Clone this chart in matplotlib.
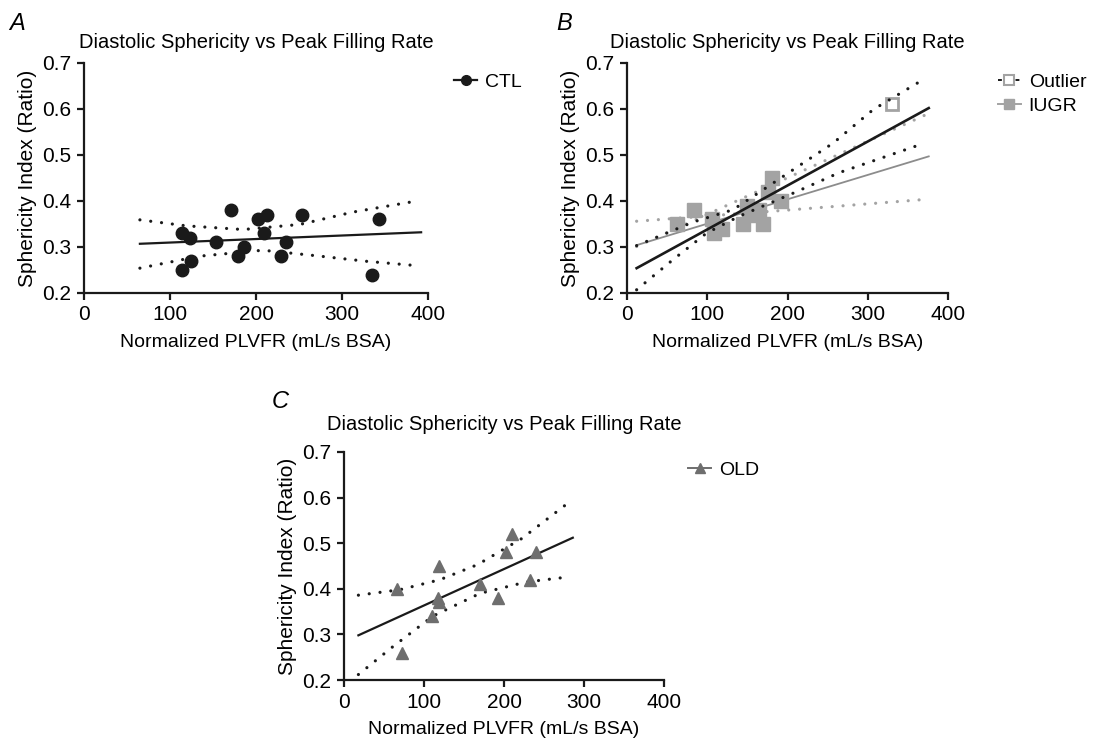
import matplotlib
matplotlib.use("Agg")
import matplotlib.pyplot as plt
from matplotlib.lines import Line2D

plt.rcParams['font.family'] = ['Liberation Sans', 'DejaVu Sans']

title = 'Diastolic Sphericity vs Peak Filling Rate'
xlabel = 'Normalized PLVFR (mL/s BSA)'
ylabel = 'Sphericity Index (Ratio)'

# Panel A - CTL
ctl_x = [114, 123, 114, 124, 154, 171, 179, 186, 202, 213, 209, 229, 235, 254, 343, 335]
ctl_y = [0.33, 0.32, 0.25, 0.27, 0.31, 0.38, 0.28, 0.30, 0.36, 0.37, 0.33, 0.28, 0.31, 0.37, 0.36, 0.24]
ctl_fit_x = [65, 392]
ctl_fit_y = [0.307, 0.332]
ctl_up_x = [65, 119, 185, 251, 313, 390]
ctl_up_y = [0.359, 0.346, 0.338, 0.349, 0.376, 0.401]
ctl_lo_x = [65, 134, 208, 270, 328, 390]
ctl_lo_y = [0.254, 0.280, 0.293, 0.281, 0.269, 0.259]

# Panel B - IUGR (+ outlier)
iugr_x = [62, 84, 106, 108, 119, 145, 150, 152, 165, 170, 176, 181, 192]
iugr_y = [0.35, 0.38, 0.36, 0.33, 0.34, 0.35, 0.39, 0.37, 0.38, 0.35, 0.42, 0.45, 0.40]
outlier_x = [330]
outlier_y = [0.61]
all_fit_x = [12, 376]
all_fit_y = [0.254, 0.602]
all_up_x = [12, 82, 132, 165, 207, 257, 307, 371]
all_up_y = [0.303, 0.354, 0.381, 0.419, 0.468, 0.526, 0.599, 0.666]
all_lo_x = [12, 57, 99, 140, 207, 265, 371]
all_lo_y = [0.207, 0.272, 0.330, 0.367, 0.417, 0.462, 0.526]
iugr_fit_x = [12, 376]
iugr_fit_y = [0.304, 0.497]
iugr_b1_x = [12, 198, 376]
iugr_b1_y = [0.356, 0.380, 0.404]
iugr_b2_x = [12, 373]
iugr_b2_y = [0.301, 0.588]

# Panel C - OLD
old_x = [66, 72, 110, 119, 117, 119, 170, 192, 203, 210, 233, 240]
old_y = [0.40, 0.26, 0.34, 0.45, 0.38, 0.37, 0.41, 0.38, 0.48, 0.52, 0.42, 0.48]
old_fit_x = [18, 286]
old_fit_y = [0.298, 0.512]
old_up_x = [18, 70, 120, 167, 222, 280]
old_up_y = [0.386, 0.398, 0.420, 0.453, 0.510, 0.588]
old_lo_x = [18, 61, 111, 170, 228, 276]
old_lo_y = [0.212, 0.273, 0.340, 0.390, 0.415, 0.425]

xticks = [0, 100, 200, 300, 400]
yticks = [0.2, 0.3, 0.4, 0.5, 0.6, 0.7]

BLACK = '#1a1a1a'
GRAY = '#a3a3a3'
DARKGRAY = '#6e6e6e'
DOT = (0, (0.01, 3.4))

W, H = 1104, 744
fig = plt.figure(figsize=(W / 100, H / 100), dpi=100)


def setup(ax, letter, lx, ly, title_pad):
    ax.set_xlim(0, 400)
    ax.set_ylim(0.2, 0.7)
    ax.set_xticks(xticks)
    ax.set_yticks(yticks)
    ax.set_yticklabels([f'{t:.1f}' for t in yticks])
    for s in ['top', 'right']:
        ax.spines[s].set_visible(False)
    for s in ['left', 'bottom']:
        ax.spines[s].set_linewidth(1.6)
        ax.spines[s].set_color(BLACK)
    ax.tick_params(direction='out', length=5, width=1.6, labelsize=15, color=BLACK, pad=4)
    ax.set_xlabel(xlabel, fontsize=14, labelpad=7)
    ax.set_ylabel(ylabel, fontsize=15, labelpad=4)
    ax.set_title(title, fontsize=14.5, pad=title_pad)
    fig.text(lx / W, 1 - ly / H, letter, fontsize=17, style='italic', va='top', ha='left')


def dotted(ax, x, y, color):
    ax.plot(x, y, color=color, linestyle=DOT, linewidth=2.3, dash_capstyle='round', clip_on=False)


# A
axA = fig.add_axes([84 / W, 1 - 293 / H, 344 / W, 230 / H])
setup(axA, 'A', 9, 12, 11)
axA.plot(ctl_fit_x, ctl_fit_y, color=BLACK, linewidth=1.6)
dotted(axA, ctl_up_x, ctl_up_y, BLACK)
dotted(axA, ctl_lo_x, ctl_lo_y, BLACK)
axA.plot(ctl_x, ctl_y, 'o', color=BLACK, markersize=9, clip_on=False)
hA = [Line2D([], [], color=BLACK, marker='o', markersize=7, linewidth=1.6)]
axA.legend(hA, ['CTL'], loc='upper left', bbox_to_anchor=(1.025, 1.03), frameon=False,
           fontsize=14, handlelength=1.2, handletextpad=0.4)

# B
axB = fig.add_axes([627 / W, 1 - 293 / H, 321 / W, 230 / H])
setup(axB, 'B', 556, 12, 11)
dotted(axB, iugr_b1_x, iugr_b1_y, GRAY)
dotted(axB, iugr_b2_x, iugr_b2_y, GRAY)
axB.plot(iugr_fit_x, iugr_fit_y, color='#8c8c8c', linewidth=1.3)
axB.plot(iugr_x, iugr_y, 's', color=GRAY, markersize=10, clip_on=False)
axB.plot(outlier_x, outlier_y, 's', markerfacecolor='white', markeredgecolor=GRAY,
         markeredgewidth=2, markersize=9, clip_on=False)
axB.plot(all_fit_x, all_fit_y, color=BLACK, linewidth=1.9)
dotted(axB, all_up_x, all_up_y, BLACK)
dotted(axB, all_lo_x, all_lo_y, BLACK)
hB = [Line2D([], [], color=BLACK, linestyle=(0, (2, 1)), marker='s', markerfacecolor='white',
             markeredgecolor=GRAY, markeredgewidth=1.5, markersize=7, linewidth=1.4),
      Line2D([], [], color=GRAY, marker='s', markersize=7, linewidth=1.4)]
axB.legend(hB, ['Outlier', 'IUGR'], loc='upper left', bbox_to_anchor=(1.1, 1.03), frameon=False,
           fontsize=14, handlelength=1.2, handletextpad=0.4, labelspacing=0.3)

# C
axC = fig.add_axes([344 / W, 1 - 680 / H, 320 / W, 228 / H])
setup(axC, 'C', 272, 390, 16)
axC.plot(old_fit_x, old_fit_y, color=BLACK, linewidth=1.6)
dotted(axC, old_up_x, old_up_y, BLACK)
dotted(axC, old_lo_x, old_lo_y, BLACK)
axC.plot(old_x, old_y, '^', color=DARKGRAY, markersize=9, clip_on=False)
hC = [Line2D([], [], color=DARKGRAY, marker='^', markersize=7, linewidth=1.4)]
axC.legend(hC, ['OLD'], loc='upper left', bbox_to_anchor=(1.02, 1.035), frameon=False,
           fontsize=14, handlelength=1.2, handletextpad=0.4)

fig.savefig('out.png', dpi=100)
